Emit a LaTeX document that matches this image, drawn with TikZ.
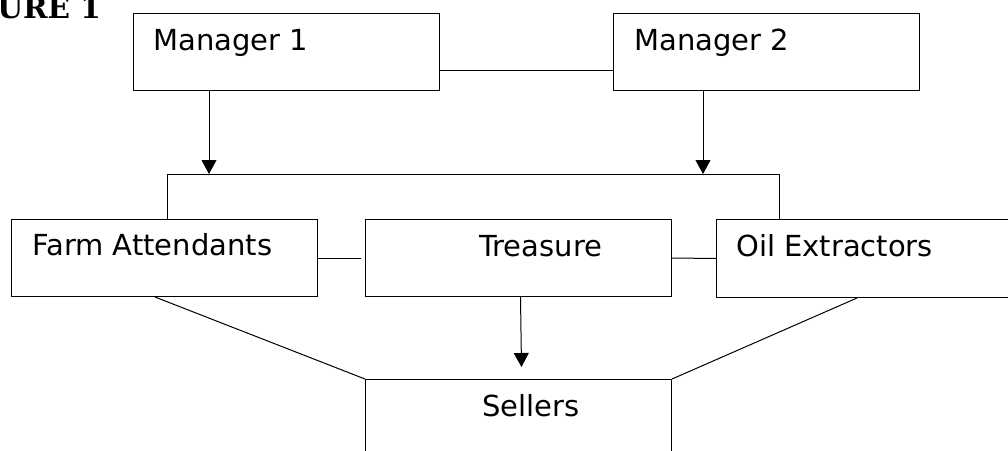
\documentclass[tikz,border=0pt]{standalone}
\usepackage{fontspec}
\newfontfamily\dvsans{DejaVu Sans}
\newfontfamily\dvserifb{DejaVu Serif}
\usetikzlibrary{arrows.meta}
\begin{document}
\begin{tikzpicture}[x=1pt,y=-1pt,
  box/.style={draw=black, line width=1pt, inner sep=0pt, anchor=north west},
  lbl/.style={anchor=base west, inner sep=0pt, font=\dvsans\fontsize{29}{34}\selectfont},
  conn/.style={draw=black, line width=1pt},
  arr/.style={conn, -{Triangle[length=14pt,width=15pt]}}]
\useasboundingbox (0,0) rectangle (1008,450);
% title (partially cut off at the left edge, as in the reference)
\node[anchor=base east, inner sep=0pt, font=\dvserifb\bfseries\fontsize{29.5}{34}\selectfont] (title) at (101,18) {FIGURE 1};
% boxes
\node[box, minimum width=306pt, minimum height=77pt] (m1) at (133,13) {};
\node[box, minimum width=306pt, minimum height=77pt] (m2) at (613,13) {};
\node[box, minimum width=306pt, minimum height=77pt] (fa) at (11,219) {};
\node[box, minimum width=306pt, minimum height=77pt] (tr) at (365,219) {};
\node[box, minimum width=306pt, minimum height=78pt] (oe) at (716,219) {};
\node[box, minimum width=306pt, minimum height=85pt] (se) at (365,379) {};
% labels
\node[lbl] (m1t) at (153,50) {Manager 1};
\node[lbl] (m2t) at (634,50) {Manager 2};
\node[lbl] (fat) at (32,255) {Farm Attendants};
\node[lbl] (trt) at (479,256) {Treasure};
\node[lbl] (oet) at (736,256) {Oil Extractors};
\node[lbl] (set) at (482,416) {Sellers};
% bus coordinates
\coordinate (busL) at (167,174);
\coordinate (busR) at (779,174);
\coordinate (a1) at (209,174);
\coordinate (a2) at (703,174);
% connectors
\draw[conn] ([yshift=-18.5pt]m1.east) -- ([yshift=-18.5pt]m2.west);
\draw[arr] (m1.south -| a1) -- (a1);
\draw[arr] (m2.south -| a2) -- (a2);
\draw[conn] (fa.north -| busL) -- (busL) -- (busR) -- (oe.north -| busR);
\draw[conn] (fa.east) -- ([xshift=-4pt]tr.west);
\draw[conn] (tr.east) -- (oe.west);
\draw[arr] ([xshift=2pt]tr.south) -- ([xshift=3pt,yshift=12pt]se.north);
\draw[conn] ([xshift=144pt]fa.south west) -- (se.north west);
\draw[conn] ([xshift=141pt]oe.south west) -- (se.north east);
\end{tikzpicture}
\end{document}
